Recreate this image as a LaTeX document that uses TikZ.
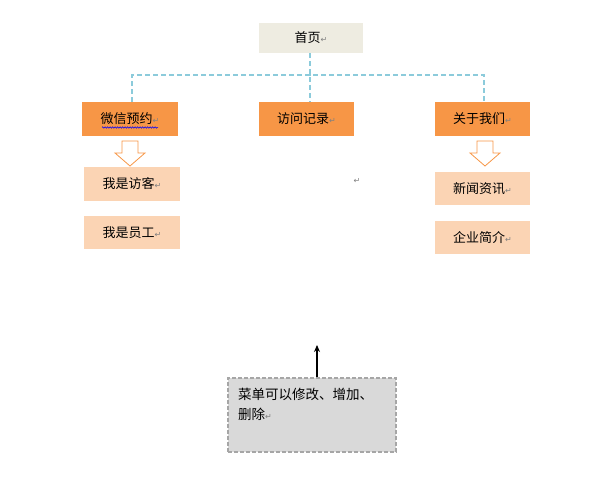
\documentclass[tikz,border=0pt]{standalone}
\usepackage{fontspec}
\setmainfont{Noto Sans CJK SC}
\newfontfamily\dvfont{DejaVu Sans}
\usetikzlibrary{arrows.meta,decorations.pathmorphing}
\definecolor{tanbg}{HTML}{EEECE1}
\definecolor{orangeA}{HTML}{F79646}
\definecolor{orangeL}{HTML}{FBD4B4}
\definecolor{linkblue}{HTML}{8CCBDB}
\definecolor{noteg}{HTML}{D9D9D9}
\definecolor{notebd}{HTML}{A6A6A6}
\newcommand\retmark{{\dvfont\color{gray}\fontsize{8}{8}\selectfont ↵}}
\tikzset{
  box/.style={inner sep=0pt, font=\fontsize{13}{15}\selectfont},
  topbox/.style={box, fill=tanbg, minimum width=104pt, minimum height=30pt},
  mainbox/.style={box, fill=orangeA, minimum width=96pt, minimum height=34pt},
  subbox/.style={box, fill=orangeL, minimum width=96pt, minimum height=33pt},
  link/.style={draw=linkblue, line width=1.2pt, dash pattern=on 5pt off 3pt},
  blockarrow/.style={draw=orangeA, fill=white, line width=0.8pt, line join=miter},
}
\begin{document}
\begin{tikzpicture}[x=1pt,y=-1pt]
\useasboundingbox (0,0) rectangle (590,489);
% boxes
\node[topbox]  (home) at (311,38)   {首页\retmark};
\node[mainbox] (wx)   at (130,119)  {微信预约\retmark};
\node[mainbox, minimum width=95pt] (fw) at (306.5,119) {访问记录\retmark};
\node[mainbox, minimum width=95pt] (gy) at (482.5,119) {关于我们\retmark};
\node[subbox, minimum height=34pt] (fk) at (132,184) {我是访客\retmark};
\node[subbox]  (yg)   at (132,232.5) {我是员工\retmark};
\node[subbox, minimum width=95pt] (xw) at (482.5,188.5) {新闻资讯\retmark};
\node[subbox, minimum width=95pt] (qy) at (482.5,237.5) {企业简介\retmark};
\node (stray) at (357,181) {\retmark};
% spell-check squiggle
\draw[blue, line width=0.5pt, decorate, decoration={zigzag, amplitude=0.8pt, segment length=2.5pt}]
  (102,127.5) -- (158,127.5);
% dashed connectors
\coordinate (hub) at (310,75);
\draw[link] ([xshift=-1pt]home.south) -- ([xshift=3.5pt]fw.north);
\draw[link] ([xshift=2pt]wx.north) |- (hub) -| ([xshift=1.5pt]gy.north);
% block arrows
\draw[blockarrow] (122,141) -- (138,141) -- (138,153) -- (145,153) -- (130,166) -- (115,153) -- (122,153) -- cycle;
\draw[blockarrow] (477,141) -- (493,141) -- (493,153) -- (500,153) -- (485,166) -- (470,153) -- (477,153) -- cycle;
% note
\node[draw=notebd, fill=noteg, line width=1.2pt, dash pattern=on 4pt off 2pt,
      minimum width=168pt, minimum height=74pt, inner sep=0pt] (note) at (312,415) {};
\node[anchor=north west, inner sep=0pt, text width=150pt, align=left,
      font=\fontsize{13.5}{20}\selectfont] (notetext) at (238,388)
      {菜单可以修改、增加、\\删除\retmark};
\coordinate (tip) at (317,345);
\draw[-{Stealth[length=7pt,width=6pt]}, line width=1.4pt] ([xshift=5pt]note.north) -- (tip);
\end{tikzpicture}
\end{document}
